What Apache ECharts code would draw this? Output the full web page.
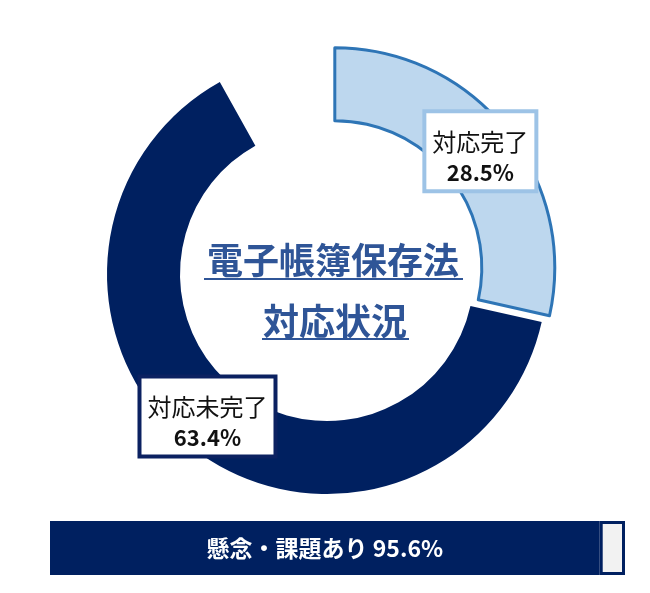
<!DOCTYPE html>
<html>
<head>
<meta charset="utf-8">
<script src="https://cdn.jsdelivr.net/npm/echarts@6/dist/echarts.min.js"></script>
<style>
  html, body { margin: 0; padding: 0; background: #fff; }
  #chart { width: 650px; height: 593px; }
</style>
</head>
<body>
<div id="chart"></div>
<script>
// 対応状況（ドーナツ）
const segNames = ['対応完了', '対応未完了', ''];
const segValues = [28.5, 63.4, 8.1];
const segColors = ['#BDD7EE', '#002060', 'transparent'];
const labelBorders = ['#9DC3E6', '#0B2161', 'transparent'];

// 懸念・課題（帯グラフ）
const concernName = '懸念・課題あり';
const concernValues = [95.6, 4.4];

const titleLines = ['電子帳簿保存法', '対応状況'];

const FONT = '"Noto Sans CJK JP", "Noto Sans", sans-serif';
const NAVY = '#002060';

const chart = echarts.init(document.getElementById('chart'));

const pieData = segValues.map((v, i) => {
  const item = {
    name: segNames[i],
    value: v,
    itemStyle: { color: segColors[i] },
    label: {
      show: i < 2,
      borderColor: labelBorders[i]
    }
  };
  if (i === 0) {
    item.selected = true;
    item.itemStyle.borderColor = '#2E75B6';
    item.itemStyle.borderWidth = 3;
  }
  if (i === 1) {
    item.label.offset = [-8, -7];
  }
  if (i === 2) {
    item.itemStyle.borderWidth = 0;
    item.emphasis = { disabled: true };
  }
  return item;
});

const option = {
  animation: false,
  graphic: [
    {
      type: 'text', x: 333, y: 260,
      style: {
        text: titleLines[0], textAlign: 'center', textVerticalAlign: 'middle',
        font: 'bold 36px ' + FONT, fill: '#2F5597'
      }
    },
    {
      type: 'text', x: 335, y: 321,
      style: {
        text: titleLines[1], textAlign: 'center', textVerticalAlign: 'middle',
        font: 'bold 36px ' + FONT, fill: '#2F5597'
      }
    },
    { type: 'line', shape: { x1: 204, y1: 279, x2: 463, y2: 279 }, style: { stroke: '#2F5597', lineWidth: 2 } },
    { type: 'line', shape: { x1: 262, y1: 339, x2: 409, y2: 339 }, style: { stroke: '#2F5597', lineWidth: 2 } }
  ],
  grid: { left: 50, right: 25, top: 521, height: 54 },
  xAxis: { type: 'value', min: 0, max: 100, show: false },
  yAxis: { type: 'category', data: [concernName], show: false },
  series: [
    {
      type: 'pie',
      center: [327, 274],
      radius: [147, 220],
      startAngle: 90,
      clockwise: true,
      selectedMode: 'single',
      selectedOffset: 10,
      avoidLabelOverlap: false,
      label: {
        position: 'inside',
        backgroundColor: '#fff',
        borderWidth: 4,
        padding: [13, 6, 1, 6],
        formatter: p => '{n|' + p.name + '}\n{v|' + p.value + '%}',
        rich: {
          n: { fontFamily: FONT, fontSize: 24, color: '#111', lineHeight: 31, align: 'center' },
          v: { fontFamily: FONT, fontSize: 22, fontWeight: 'bold', color: '#111', lineHeight: 31, align: 'center' }
        }
      },
      labelLine: { show: false },
      emphasis: { scale: false },
      data: pieData
    },
    {
      type: 'bar',
      stack: 'c',
      barWidth: 54,
      data: [concernValues[0]],
      itemStyle: { color: NAVY },
      label: {
        show: true,
        position: 'inside',
        formatter: concernName + ' ' + concernValues[0] + '%',
        color: '#fff',
        fontFamily: FONT,
        fontSize: 23,
        fontWeight: 'bold'
      }
    },
    {
      type: 'bar',
      stack: 'c',
      barWidth: 54,
      data: [concernValues[1]],
      itemStyle: { color: '#F2F2F2', borderColor: NAVY, borderWidth: 3 }
    }
  ]
};

chart.setOption(option);
</script>
</body>
</html>
